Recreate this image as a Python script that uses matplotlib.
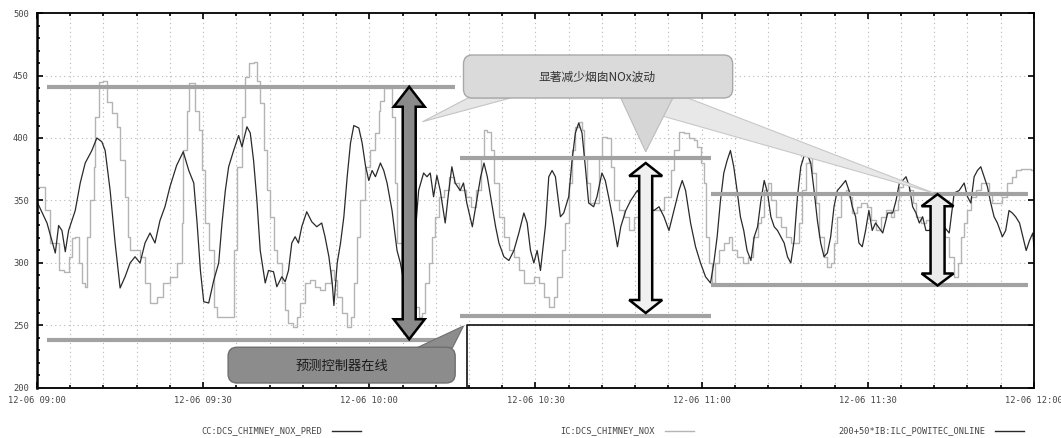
"""
NOx 烟囱排放: 预测值 / 实测值 / 预测控制器在线 (12-06 09:00 - 12:00)
"""
import numpy as np
import matplotlib
matplotlib.use('Agg')
import matplotlib.pyplot as plt
from matplotlib.patches import Polygon, FancyBboxPatch
from matplotlib.lines import Line2D
from matplotlib.transforms import IdentityTransform

plt.rcParams['font.family'] = ['Noto Sans CJK SC', 'DejaVu Sans']
MONO = 'DejaVu Sans Mono'

# ---------------- datos (minutos desde 12-06 09:00) ----------------
t_pred = [0, 1.8, 3.3, 3.9, 4.5, 5.1, 5.7, 6.9, 7.8, 8.7, 9.9, 10.8, 11.7, 12.3, 13.2, 14.1, 15.0, 15.9, 16.8, 17.7,
          18.6, 19.5, 20.4, 21.3, 22.2, 23.1, 24.0, 25.2, 26.4, 27.4, 28.3, 28.9, 29.5, 30.1, 31.0,
          31.9, 32.8, 33.4, 34.0, 34.6, 35.5, 36.4, 37.0, 37.9, 38.5, 39.1, 39.7, 40.3, 41.2, 41.8, 42.7, 43.3,
          44.2, 44.8, 45.4, 46.0, 46.6, 47.2, 47.8, 48.7, 49.6, 50.5, 51.4, 52.0, 52.7, 53.3, 53.6, 54.2, 54.8,
          55.4, 56.0, 56.6, 57.2, 58.1, 58.7, 59.3, 59.9, 60.5, 61.1, 62.0,
          62.6, 63.2, 64.1, 65.0, 65.6, 66.2, 66.8, 67.7, 68.3, 68.9, 69.8, 70.4, 71.0, 71.6, 72.2, 72.8, 73.7,
          74.3, 74.9, 75.5, 76.4, 77.0, 77.6, 78.6, 79.2, 80.1, 80.7, 81.3, 81.9, 82.8, 83.4, 84.3, 85.2, 86.1,
          87.0, 87.9, 88.5, 89.1, 89.7, 90.3, 90.9, 91.8,
          92.4, 93.0, 93.6, 93.9, 94.5, 95.1, 96.0, 96.6, 97.2, 97.8, 98.4, 99.0, 99.6, 100.5, 101.1, 102.0,
          102.6, 103.2, 103.9, 104.8, 105.4, 106.3, 107.2, 108.4, 109.9, 111.4, 112.3, 113.2, 114.1, 115.0,
          115.9, 116.5, 117.1, 118.0, 118.9, 119.8, 120.7, 121.6,
          122.2, 122.8, 123.4, 124.0, 124.6, 125.2, 125.8, 126.4, 127.0, 127.6, 128.2, 128.9, 129.5, 130.1,
          130.7, 131.3, 131.9, 132.5, 133.1, 133.7, 134.3, 134.9, 135.5, 136.1, 136.7, 137.3, 137.9, 138.8,
          139.7, 140.3, 140.9, 141.5, 142.1, 142.7, 143.3, 143.9, 144.5, 145.1, 146.0, 146.6, 147.2, 147.8,
          148.4, 149.0, 149.6, 150.2, 150.8, 151.4,
          152.7, 153.6, 154.5, 155.1, 155.7, 156.3, 156.9, 157.5, 158.1, 158.7, 159.3, 159.9, 160.5, 161.1,
          162.0, 163.2, 164.7, 165.6, 166.5, 167.4, 168.0, 168.6, 169.2, 169.8, 170.4, 171.0, 171.6, 172.2,
          172.8, 173.4, 174.3, 174.9, 175.5, 176.1, 176.7, 177.4, 178.0, 178.6, 179.2, 179.8, 180.0]
nox_pred = [349, 332, 308, 330, 326, 309, 326, 342, 364, 380, 390, 400, 397, 390, 358, 316, 280, 289, 300, 305,
            300, 316, 324, 316, 334, 345, 361, 378, 389, 374, 364, 332, 294, 269, 268,
            286, 300, 332, 358, 377, 390, 402, 393, 409, 404, 382, 350, 310, 284, 294, 293, 281,
            289, 285, 294, 316, 321, 316, 329, 341, 333, 329, 332, 321, 305, 284, 266, 300, 316,
            337, 369, 396, 410, 408, 396, 378, 366, 374, 369, 380,
            374, 364, 342, 310, 300, 286, 280, 300, 324, 358, 372, 369, 372, 353, 370, 358, 332,
            356, 377, 364, 358, 364, 348, 329, 345, 369, 380, 369, 353, 329, 316, 305, 302, 310,
            324, 340, 332, 310, 300, 310, 294, 330,
            369, 374, 369, 358, 337, 340, 353, 382, 404, 412, 404, 377, 348, 345, 353, 372,
            366, 353, 337, 313, 329, 342, 350, 358, 345, 342, 345, 337, 326, 342,
            358, 366, 358, 332, 313, 300, 289, 284,
            300, 321, 350, 372, 382, 390, 377, 358, 337, 326, 310, 302, 321, 329,
            350, 366, 356, 337, 329, 326, 321, 316, 305, 300, 318, 353, 377, 390,
            380, 358, 334, 316, 305, 308, 321, 345, 358, 361, 366, 358, 345, 337,
            316, 313, 326, 342, 326, 332,
            324, 340, 340, 350, 364, 366, 369, 361, 345, 340, 332, 337, 326, 326,
            332, 332, 324, 356, 358, 364, 353, 348, 369, 374, 377, 369, 361, 348,
            337, 332, 321, 326, 342, 340, 337, 332, 321, 310, 318, 324, 313]

t_meas = [0, 1.5, 2.4, 3.9, 4.8, 5.7, 6.3, 6.9, 7.5, 8.1, 8.7, 9.0, 9.6, 10.2, 10.5, 11.1, 12.0, 12.6, 13.5,
          14.4, 15.0, 15.9, 16.5, 16.8, 17.7, 18.6, 19.5, 20.4, 21.6, 22.8, 24.0, 25.2, 26.1, 26.4, 27.1,
          27.5, 28.3, 28.6, 29.2, 29.8, 30.4, 31.0,
          31.9, 32.5, 35.2, 35.5, 36.1, 37.0, 37.6, 38.2, 39.1, 39.7, 40.3, 40.9, 41.5, 42.1, 42.7, 43.3,
          44.2, 44.8, 45.4, 46.3, 46.9, 47.5, 48.4, 49.3, 50.2, 51.1, 52.0, 53.0, 53.6, 54.2, 55.1, 56.0,
          56.6, 57.2, 57.8, 58.4, 59.3, 60.2, 61.1, 61.7,
          62.0, 62.6, 63.5, 64.1, 64.7, 65.0, 65.9, 67.1, 68.9, 69.5, 70.1, 70.7, 71.3, 71.9, 72.5, 73.4,
          74.3, 75.2, 76.1, 77.4, 78.3, 79.2, 80.1, 80.7, 81.3, 81.9, 82.5, 83.4, 84.3, 85.2, 86.1, 87.0,
          87.9, 88.8, 89.7, 90.6, 91.5,
          92.4, 93.3, 93.9, 94.8, 95.4, 96.0, 96.6, 97.2, 97.8, 98.4, 98.7, 99.3, 99.9, 100.8, 101.4, 102.0,
          103.0, 103.6, 104.2, 105.1, 106.0, 106.9, 107.8, 109.6, 110.8, 112.0, 113.2, 114.4, 115.0, 115.9,
          116.8, 117.7, 118.6, 119.2, 119.8, 120.4, 120.7, 121.3,
          121.9, 122.5, 123.1, 124.0, 124.9, 125.5, 126.4, 127.4, 128.3, 129.2, 130.1, 130.7, 131.3, 131.9,
          132.5, 133.4, 134.3, 135.2, 136.1, 137.0, 137.6, 138.2, 138.8, 139.4, 140.0, 140.6, 141.2, 142.1,
          142.7, 143.3, 143.9, 144.5, 145.1, 146.0, 146.6, 147.2, 148.1, 148.7, 149.3, 149.9, 150.5, 151.4,
          152.4, 153.3, 154.2, 154.8, 155.4, 155.7, 156.3, 156.9, 157.5, 158.1, 158.7, 159.6, 160.5, 162.0,
          163.8, 164.7, 165.6, 166.2, 166.8, 167.4, 168.0, 168.6, 169.5, 170.4, 171.3, 171.9, 172.5, 173.4,
          174.3, 175.2, 176.1, 176.7, 177.7, 178.6, 179.5, 180.0]
nox_meas = [361, 342, 316, 294, 293, 305, 320, 321, 300, 284, 281, 321, 350, 377, 417, 445, 446, 429, 420,
            409, 382, 353, 321, 310, 310, 305, 284, 268, 273, 284, 289, 300, 332, 390, 422,
            444, 444, 422, 406, 374, 332, 310,
            265, 257, 257, 310, 377, 417, 449, 460, 461, 446, 428, 390, 358, 337, 310, 300,
            284, 262, 252, 249, 257, 268, 284, 286, 281, 278, 284, 294, 286, 273, 260, 249,
            257, 284, 321, 350, 377, 390, 404, 422,
            430, 440, 440, 417, 364, 316, 285, 265, 257, 260, 284, 300, 321, 337, 353, 358,
            369, 364, 358, 353, 345, 358, 385, 406, 405, 390, 364, 337, 321, 310, 305, 294,
            284, 284, 289, 284, 273,
            265, 273, 289, 310, 332, 364, 390, 409, 413, 406, 385, 364, 348, 348, 385, 401,
            400, 377, 350, 342, 337, 326, 337, 348, 342, 342, 353, 374, 390, 405,
            404, 400, 398, 393, 380, 364, 321, 300,
            284, 300, 310, 316, 321, 310, 305, 300, 305, 321, 332, 337, 358, 364,
            350, 337, 329, 321, 316, 316, 332, 358, 380, 390, 372, 348, 321, 305,
            297, 300, 316, 337, 356, 358, 353, 340, 345, 348, 348, 345, 334, 326,
            337, 342, 337, 342, 350, 361, 365, 364, 358, 348, 337, 332, 334, 337,
            321, 305, 289, 300, 321, 332, 342, 353, 358, 364, 364, 356, 348, 348,
            353, 364, 369, 374, 375, 375, 374, 366]

# 200 + 50 * POWITEC_ONLINE
t_online = [0, 77.6, 180]
online = [0, 1, 1]

x_ticks = [0, 30, 60, 90, 120, 150, 180]
x_labels = ['12-06 09:00', '12-06 09:30', '12-06 10:00', '12-06 10:30',
            '12-06 11:00', '12-06 11:30', '12-06 12:00']
y_ticks = [200, 250, 300, 350, 400, 450, 500]

# bandas de referencia (inicio, fin, nivel)
bandas = [(1.8, 75.5, 441), (1.8, 75.5, 238.5),
          (76.4, 121.6, 384), (76.4, 121.6, 257.5),
          (121.6, 179.0, 355), (121.6, 179.0, 282)]

# ---------------- figura ----------------
fig = plt.figure(figsize=(10.61, 4.38), dpi=100)
ax = fig.add_axes([0.0349, 0.1142, 0.9396, 0.8561])
ax.set_xlim(0, 180)
ax.set_ylim(200, 500)

ax.set_xticks(x_ticks)
ax.set_xticklabels(x_labels, fontfamily=MONO, fontsize=6.3, color='#444444')
ax.set_xticks(np.arange(0, 181, 6), minor=True)
ax.set_yticks(y_ticks)
ax.set_yticklabels([str(v) for v in y_ticks], fontfamily=MONO, fontsize=6.3, color='#444444')
ax.set_yticks(np.arange(200, 501, 10), minor=True)
ax.tick_params(which='both', direction='in', top=True, right=True, width=1.2)
ax.tick_params(which='major', length=4, pad=6)
ax.tick_params(which='minor', length=2)
ax.tick_params(axis='y', which='minor', right=False)
for s in ax.spines.values():
    s.set_linewidth(1.3)
ax.spines['left'].set_linewidth(1.8)

# rejilla punteada
for t in np.arange(6, 180, 6):
    ax.axvline(t, color='#b8b8b8', lw=0.8, ls=(0, (1, 3)), zorder=1)
for v in [250, 300, 350, 400, 450]:
    ax.axhline(v, color='#b8b8b8', lw=0.8, ls=(0, (1, 3)), zorder=1)

# series
ax.plot(t_meas, nox_meas, color='#b4b4b4', lw=1.0, drawstyle='steps-post', zorder=2)
ax.plot(t_pred, nox_pred, color='#2a2a2a', lw=0.9, zorder=2.5)
ax.plot(t_online, 200 + 50 * np.array(online), color='#111111', lw=1.2,
        drawstyle='steps-post', zorder=2.6, clip_on=False)

for t0, t1, v in bandas:
    ax.plot([t0, t1], [v, v], color='#a2a2a2', lw=3, solid_capstyle='butt', zorder=3)

# cuñas de los globos
cunas = [
    ([(69.6, 413), (77.8, 432), (85.5, 432)], '#e6e6e6', '#c4c4c4'),
    ([(161.9, 356), (112.6, 418), (112.6, 432), (117.5, 432)], '#e8e8e8', '#c8c8c8'),
    ([(109.9, 389), (105.4, 432), (114.8, 432)], '#d6d6d6', '#bcbcbc'),
    ([(77.0, 249.6), (68.5, 232), (75.0, 232)], '#8c8c8c', '#707070'),
]
for pts, fc, ec in cunas:
    ax.add_patch(Polygon(pts, closed=True, fc=fc, ec=ec, lw=0.8, zorder=4))


def caja_redonda(t0, t1, v0, v1, fc, ec, r):
    x0, y0 = ax.transData.transform((t0, v0))
    x1, y1 = ax.transData.transform((t1, v1))
    ax.add_patch(FancyBboxPatch((x0, y0), x1 - x0, y1 - y0,
                                boxstyle=f'round,pad=0,rounding_size={r}',
                                fc=fc, ec=ec, lw=1.0, transform=IdentityTransform(),
                                zorder=5, clip_on=False))


def flecha_doble(t, v_top, v_bot, shaft, head_w, head_l, fc):
    x, y1 = ax.transData.transform((t, v_top))
    _, y0 = ax.transData.transform((t, v_bot))
    s, h = shaft / 2, head_w / 2
    pts = [(x, y1), (x + h, y1 - head_l), (x + s, y1 - head_l), (x + s, y0 + head_l),
           (x + h, y0 + head_l), (x, y0), (x - h, y0 + head_l), (x - s, y0 + head_l),
           (x - s, y1 - head_l), (x - h, y1 - head_l)]
    ax.add_patch(Polygon(pts, closed=True, fc=fc, ec='black', lw=1.8,
                         transform=IdentityTransform(), zorder=6, joinstyle='miter'))


caja_redonda(77.0, 125.6, 432, 466.4, '#dadada', '#a8a8a8', 9)
caja_redonda(34.5, 75.5, 204, 232.6, '#8c8c8c', '#6e6e6e', 9)
ax.text(101.2, 448.8, '显著减少烟囱NOx波动', fontsize=8.5, color='#333333',
        ha='center', va='center', zorder=7)
ax.text(55.1, 217.6, '预测控制器在线', fontsize=9.5, color='#1a1a1a',
        ha='center', va='center', zorder=7)

flecha_doble(67.2, 441, 239, 13, 31, 20, '#8a8a8a')
flecha_doble(109.9, 380, 260, 13, 33, 13, '#f0f0f0')
flecha_doble(162.6, 355, 282, 14, 32, 12, '#ebebeb')

# leyenda inferior
leyenda = [('CC:DCS_CHIMNEY_NOX_PRED', '#2a2a2a', 0.3035),
           ('IC:DCS_CHIMNEY_NOX', '#b4b4b4', 0.6173),
           ('200+50*IB:ILC_POWITEC_ONLINE', '#2a2a2a', 0.9284)]
for nombre, color, xr in leyenda:
    fig.text(xr, 0.016, nombre, fontfamily=MONO, fontsize=6.2, color='#444444',
             ha='right', va='center')
    fig.add_artist(Line2D([xr + 0.0094, xr + 0.037], [0.016, 0.016], color=color, lw=1.0,
                          transform=fig.transFigure))

plt.savefig('out.png', dpi=100)
plt.close()
